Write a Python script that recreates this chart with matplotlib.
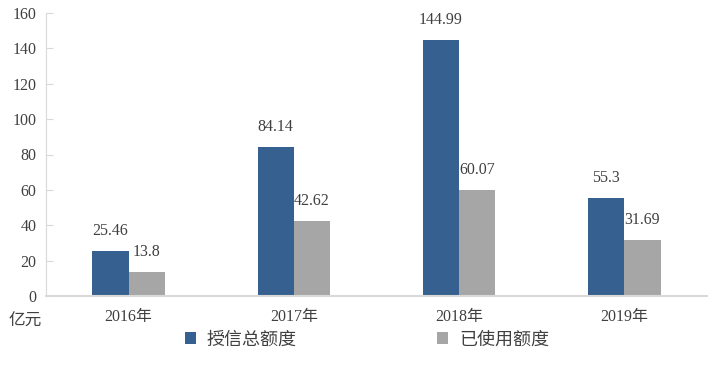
import matplotlib
matplotlib.use("Agg")
import matplotlib.pyplot as plt
import numpy as np

plt.rcParams['font.family'] = ['Liberation Serif', 'Noto Sans CJK SC']

categories = ['2016年', '2017年', '2018年', '2019年']
credit_total = [25.46, 84.14, 144.99, 55.3]
credit_used = [13.8, 42.62, 60.07, 31.69]
credit_total_labels = ['25.46', '84.14', '144.99', '55.3']
credit_used_labels = ['13.8', '42.62', '60.07', '31.69']
series_names = ['授信总额度', '已使用额度']
yticks = [0, 20, 40, 60, 80, 100, 120, 140, 160]

blue = '#36608F'
gray = '#A6A6A6'
tc = '#404040'

fig = plt.figure(figsize=(7.19, 3.67), dpi=100)
ax = fig.add_axes([46/719, 1-296/367, 661/719, 283/367])

x = np.arange(len(categories)) + 0.5
w = 0.22
b1 = ax.bar(x - w/2, credit_total, w, color=blue, label=series_names[0])
b2 = ax.bar(x + w/2, credit_used, w, color=gray, label=series_names[1])

for xi, v, t in zip(x - w/2, credit_total, credit_total_labels):
    ax.annotate(t, (xi, v), xytext=(0, 11.5), textcoords='offset points', ha='center', va='baseline', fontsize=11.5, color=tc)
for xi, v, t in zip(x + w/2, credit_used, credit_used_labels):
    ax.annotate(t, (xi, v), xytext=(0, 11.5), textcoords='offset points', ha='center', va='baseline', fontsize=11.5, color=tc)

ax.set_xlim(0, 4)
ax.set_ylim(0, 160)
ax.set_yticks(yticks)
ax.set_xticks(x)
ax.set_xticklabels(categories)
for s in ['top', 'right']:
    ax.spines[s].set_visible(False)
ax.spines['left'].set_color('#D9D9D9')
ax.spines['bottom'].set_color('#D9D9D9')
ax.spines['bottom'].set_linewidth(1.5)
ax.tick_params(axis='y', direction='in', length=5, color='#D9D9D9', labelsize=11.5, labelcolor=tc, pad=7)
ax.tick_params(axis='x', length=0, labelsize=11.5, labelcolor=tc, pad=9)

fig.text(8/719, 1-322/367, '亿元', fontsize=12, color=tc, va='center', ha='left')

leg = fig.legend(handles=[b1, b2], loc='center', bbox_to_anchor=(367/719, 1-340/367), ncol=2,
                 frameon=False, fontsize=13, handlelength=0.6, handleheight=0.6,
                 columnspacing=7.8, handletextpad=0.6, labelcolor=tc)

fig.savefig('out.png', dpi=100)
